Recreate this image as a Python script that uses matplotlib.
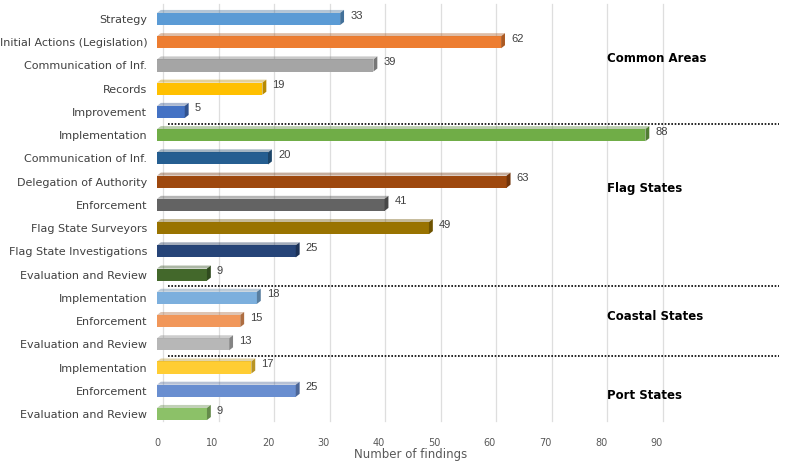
import matplotlib
matplotlib.use("Agg")
import matplotlib.pyplot as plt
from matplotlib.patches import Polygon
import matplotlib.colors as mcolors
import matplotlib.transforms as mtrans

categories = ["Strategy", "Initial Actions (Legislation)", "Communication of Inf.", "Records",
              "Improvement", "Implementation", "Communication of Inf.", "Delegation of Authority",
              "Enforcement", "Flag State Surveyors", "Flag State Investigations",
              "Evaluation and Review", "Implementation", "Enforcement", "Evaluation and Review",
              "Implementation", "Enforcement", "Evaluation and Review"]
values = [33, 62, 39, 19, 5, 88, 20, 63, 41, 49, 25, 9, 18, 15, 13, 17, 25, 9]
colors = ["#5B9BD5", "#ED7D31", "#A5A5A5", "#FFC000", "#4472C4", "#70AD47",
          "#255E91", "#9E480E", "#636363", "#997300", "#264478", "#43682B",
          "#7CAFDD", "#F1975A", "#B7B7B7", "#FFCD33", "#698ED0", "#8CC168"]
sections = ["Common Areas", "Flag States", "Coastal States", "Port States"]
section_rows = [1.7, 7.3, 12.8, 16.2]
separators = [4.5, 11.5, 14.5]
xticks = [0, 10, 20, 30, 40, 50, 60, 70, 80, 90]

plt.rcParams['font.family'] = ['DejaVu Sans']

fig = plt.figure(figsize=(7.95, 4.62), dpi=100)
W, H = 795, 462
ax = fig.add_axes([157 / W, 1 - 425 / H, (792 - 157) / W, (425 - 4) / H])

ypos = list(range(len(values)))
bh = 0.52
ax.barh(ypos, values, height=bh, color=colors, zorder=3)

# 3D end cap / top face
dx, dy = 0.7, 0.13
for y, v, c in zip(ypos, values, colors):
    dark = tuple(max(0, ch * 0.72) for ch in mcolors.to_rgb(c))
    top = y - bh / 2
    bot = y + bh / 2
    ax.add_patch(Polygon([(v, top), (v + dx, top - dy), (v + dx, bot - dy), (v, bot)],
                         closed=True, facecolor=dark, edgecolor='none', zorder=4))
    ax.add_patch(Polygon([(0, top), (dx, top - dy), (v + dx, top - dy), (v, top)],
                         closed=True, facecolor=dark, edgecolor='none', zorder=4, alpha=0.4))
    ax.text(v + 1.8, y - 0.15, str(v), va='center', ha='left', fontsize=8,
            color='#404040', zorder=5, family='Liberation Sans')

# gridlines (shifted right as in the 3D chart)
gtrans = mtrans.offset_copy(ax.transData, fig=fig, x=6, y=0, units='dots')
for t in xticks:
    ax.plot([t, t], [17.3, -0.65], color='#DEDEDE', lw=0.9, zorder=0,
            transform=gtrans, clip_on=False)

for s in separators:
    ax.plot([2, 112], [s, s], linestyle=(0, (1, 1)), color='black', lw=1.2,
            zorder=5, clip_on=False)

for name, r in zip(sections, section_rows):
    ax.text(81, r, name, fontsize=8.5, fontweight='bold', color='black',
            va='center', ha='left', zorder=6)

ax.set_xlim(0, (792 - 157) / 5.55)
ax.set_ylim(17 + 11 / 23.24, -15 / 23.24)
ax.set_yticks(ypos)
ax.set_yticklabels(categories, fontsize=8, color='#404040')
ax.set_xticks(xticks)
ax.set_xticklabels([str(t) for t in xticks], fontsize=7, color='#595959')
ax.tick_params(axis='both', length=0)
ax.tick_params(axis='y', pad=7)
ax.tick_params(axis='x', pad=9)
for sp in ax.spines.values():
    sp.set_visible(False)
ax.set_xlabel("Number of findings", fontsize=8.5, color='#595959', labelpad=1)
ax.xaxis.set_label_coords((411 - 157) / (792 - 157), -0.055)

fig.savefig("out.png", dpi=100)
